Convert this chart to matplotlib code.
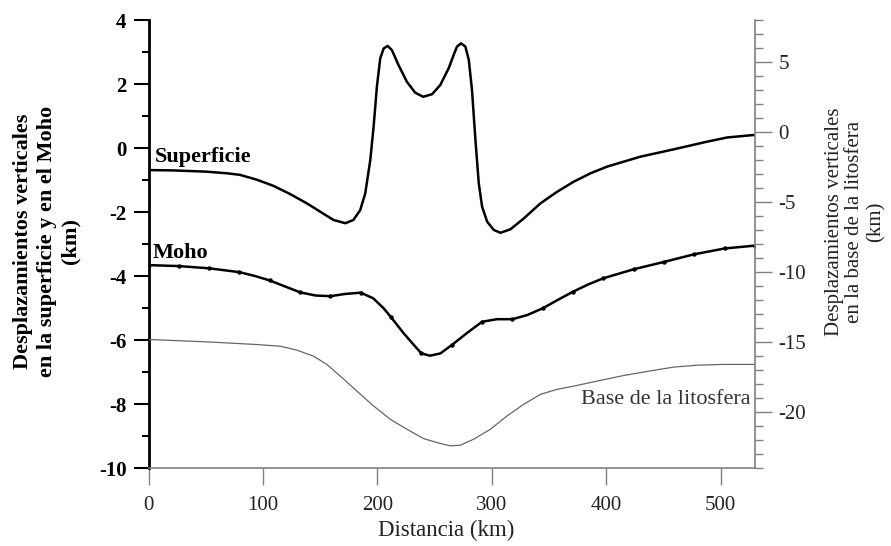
import matplotlib
matplotlib.use("Agg")
import matplotlib.pyplot as plt
from matplotlib.ticker import MultipleLocator

plt.rcParams['font.family'] = ['Liberation Serif', 'DejaVu Serif']
plt.rcParams['axes.unicode_minus'] = False

# ---- data ----
surf_x = [0, 21.7, 50.9, 68.4, 80, 94.6, 109, 123.8, 138.4, 150, 161.7, 172, 179, 185, 189.4,
          193.8, 196.7, 199.6, 202.5, 205.5, 209, 212.7, 218.5, 225.8, 233, 240, 247.8, 255,
          262.3, 266.7, 269.6, 273.1, 276.9, 279.9, 282.7, 285.7, 288.6, 291.5, 295.9, 301.7,
          307.5, 316.3, 328, 342.5, 357, 371.7, 386.3, 400.9, 430, 459.2, 488.4, 505.9, 530]
surf_y = [-0.69, -0.70, -0.74, -0.79, -0.84, -0.99, -1.18, -1.44, -1.73, -1.99, -2.25, -2.35,
          -2.25, -1.94, -1.42, -0.38, 0.66, 1.92, 2.80, 3.11, 3.19, 3.06, 2.59, 2.07, 1.73, 1.60,
          1.68, 1.97, 2.49, 2.91, 3.17, 3.27, 3.17, 2.75, 1.81, 0.25, -1.10, -1.83, -2.30, -2.56,
          -2.65, -2.54, -2.20, -1.73, -1.37, -1.05, -0.79, -0.58, -0.27, -0.04, 0.20, 0.33, 0.41]

moho_x = [0, 26.5, 53, 79.5, 93, 106, 119.5, 132.5, 146, 159, 172, 185.5, 196.5, 205.5, 212,
          223, 232, 238.5, 246, 255, 265, 278, 291.5, 304.5, 318, 331, 344.5, 357.5, 371, 384.5,
          397.5, 424, 450.5, 477, 503.5, 530]
moho_y = [-3.66, -3.69, -3.76, -3.88, -4.00, -4.14, -4.33, -4.51, -4.61, -4.63, -4.56, -4.52,
          -4.70, -5.01, -5.29, -5.79, -6.16, -6.42, -6.49, -6.42, -6.16, -5.79, -5.43, -5.35,
          -5.35, -5.22, -5.01, -4.75, -4.49, -4.26, -4.07, -3.79, -3.56, -3.32, -3.14, -3.05]
# stations (small dots) along the Moho curve
moho_station_x = [0, 26.5, 53, 79.5, 106, 132.5, 159, 185.5, 212, 238.5, 265, 291.5, 318,
                  344.5, 371, 397.5, 424, 450.5, 477, 503.5, 530]

base_x = [0, 50.9, 94.6, 115, 129.6, 144.2, 155.8, 167.5, 182, 196.7, 211.3, 225.8, 240.4, 255,
          264, 272.5, 284.2, 298.8, 313.3, 327.9, 342.5, 357, 371.7, 395, 415.4, 437.3, 459.2,
          481, 503, 530]
base_y = [-14.82, -14.99, -15.18, -15.30, -15.58, -16.01, -16.60, -17.43, -18.50, -19.57,
          -20.52, -21.23, -21.90, -22.25, -22.42, -22.37, -21.94, -21.23, -20.28, -19.45,
          -18.74, -18.38, -18.15, -17.74, -17.39, -17.08, -16.79, -16.65, -16.60, -16.60]

left_ticks = [-10, -8, -6, -4, -2, 0, 2, 4]
right_ticks = [-20, -15, -10, -5, 0, 5]
x_ticks = [0, 100, 200, 300, 400, 500]

GREY = '#808080'

fig = plt.figure(figsize=(8.91, 5.46), dpi=100)
ax = fig.add_axes([148.5 / 891, 1 - 468 / 546, (755 - 148.5) / 891, (468 - 20) / 546])
ax2 = ax.twinx()

marks = [i for i, xv in enumerate(moho_x) if xv in moho_station_x]
ax.plot(surf_x, surf_y, color='black', lw=1.8, solid_joinstyle='round', zorder=3)
ax.plot(moho_x, moho_y, color='black', lw=1.8, solid_joinstyle='round', marker='o', ms=2.2,
        markevery=marks, zorder=3)
ax2.plot(base_x, base_y, color='#666666', lw=0.9, zorder=2)

ax.set_xlim(0, 530)
ax.set_ylim(-10, 4)
ax2.set_ylim(-24, 8)

ax.set_xticks(x_ticks)
ax.set_yticks(left_ticks)
ax.yaxis.set_minor_locator(MultipleLocator(1))
ax2.set_yticks(right_ticks)
ax2.yaxis.set_minor_locator(MultipleLocator(1))

for a in (ax, ax2):
    a.spines['top'].set_visible(False)
ax.spines['left'].set_linewidth(2.0)
ax.spines['left'].set_color('black')
ax.spines['bottom'].set_color(GREY)
ax.spines['bottom'].set_linewidth(1.2)
ax.spines['right'].set_visible(False)
ax2.spines['left'].set_visible(False)
ax2.spines['bottom'].set_visible(False)
ax2.spines['right'].set_color(GREY)
ax2.spines['right'].set_linewidth(1.2)

ax.tick_params(axis='y', which='major', direction='out', length=10.8, width=1.5, pad=5,
               labelsize=15, colors='black')
ax.tick_params(axis='y', which='minor', direction='out', length=5, width=1.5)
for lab in ax.get_yticklabels():
    lab.set_fontweight('bold')
ax.tick_params(axis='x', which='major', direction='out', length=12, width=1.0, pad=8,
               labelsize=15, color=GREY, labelcolor='#222222')
ax2.tick_params(axis='y', which='major', direction='out', length=12, width=1.0, pad=5,
                labelsize=15, color=GREY, labelcolor='#222222')
ax2.tick_params(axis='y', which='minor', direction='out', length=5.5, width=1.0, color=GREY)

ax.text(5.5, -0.43, 'Superficie', fontsize=16, fontweight='bold', ha='left', va='baseline')
ax.text(4, -3.43, 'Moho', fontsize=16, fontweight='bold', ha='left', va='baseline')
ax2.text(526, -19.45, 'Base de la litosfera', fontsize=16, color='#333333', ha='right',
         va='baseline')

fig.text(47 / 891, 1 - 241 / 546,
         'Desplazamientos verticales\nen la superficie y en el Moho\n(km)',
         rotation=90, ha='center', va='center', multialignment='center', fontsize=16,
         fontweight='bold', linespacing=1.25)
fig.text(855 / 891, 1 - 222 / 546,
         'Desplazamientos verticales\nen la base de la litosfera\n(km)',
         rotation=90, ha='center', va='center', multialignment='center', fontsize=15,
         color='#222222', linespacing=1.12)
fig.text(446 / 891, 1 - 530 / 546, 'Distancia (km)', ha='center', va='center', fontsize=16.5,
         color='#222222')

fig.savefig('out.png', dpi=100)
